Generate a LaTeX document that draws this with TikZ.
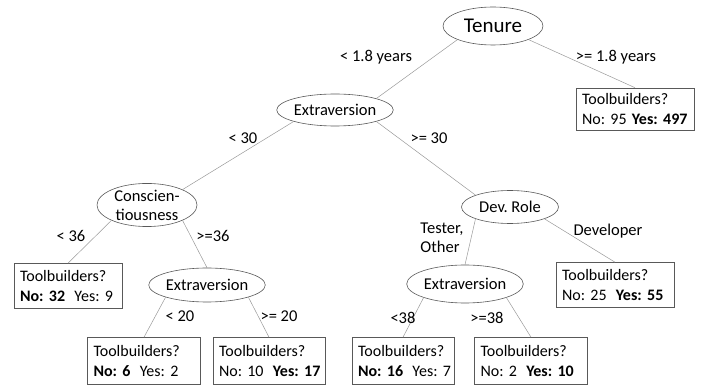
\documentclass[tikz,border=0pt]{standalone}
\usepackage{fontspec}
\setmainfont{Carlito}
\usepackage{tikz}
\usetikzlibrary{shapes.geometric,positioning}
\frenchspacing
\tikzset{
  txt/.style={font=\fontsize{16.5}{20}\selectfont, inner sep=0pt},
  split/.style={txt, ellipse, draw=black!65, line width=0.6pt, minimum width=100pt, minimum height=34pt},
  leaf/.style={txt, font=\fontsize{16}{20}\selectfont, draw=black!65, line width=0.6pt, align=left, inner xsep=6pt, inner ysep=3pt, text width=#1, minimum height=45pt},
  edge/.style={draw=black!40, line width=0.5pt},
  lbl/.style={txt}
}
\begin{document}
\begin{tikzpicture}[x=1pt,y=-1pt]
\useasboundingbox (0,0) rectangle (702,390);
\node[split, minimum height=38pt, font=\fontsize{21}{24}\selectfont] (ten) at (493,26) {Tenure};
\node[split, minimum height=32pt] (ext1) at (335,110) {Extraversion};
\node[split, minimum height=40pt, align=center, font=\fontsize{16.5}{19}\selectfont] (con) at (147,205) {Conscien-\\tiousness};
\node[split] (ext2) at (207,285) {Extraversion};
\node[split, minimum width=97pt, minimum height=33pt] (dev) at (510,207) {Dev. Role};
\node[split, minimum height=38pt] (ext3) at (465,284) {Extraversion};
\node[leaf=106pt, minimum height=42pt] (b497) at (635,109) {Toolbuilders?\\\mbox{No: 95 \textbf{Yes: 497}}};
\node[leaf=96pt] (b32) at (68,286) {Toolbuilders?\\\mbox{\textbf{No: 32}\hspace{4pt} Yes: 9}};
\node[leaf=101pt, minimum height=47pt] (b6) at (144,361) {Toolbuilders?\\\mbox{\textbf{No: 6}\hspace{4pt} Yes: 2}};
\node[leaf=100pt, minimum height=47pt] (b17) at (269,361) {Toolbuilders?\\\mbox{No: 10\hspace{4pt} \textbf{Yes: 17}}};
\node[leaf=106pt] (b55) at (615,285) {Toolbuilders?\\\mbox{No: 25\hspace{4pt} \textbf{Yes: 55}}};
\node[leaf=90pt, minimum height=47pt] (b16) at (403,361) {Toolbuilders?\\\mbox{\textbf{No: 16}\hspace{4pt} Yes: 7}};
\node[leaf=101pt, minimum height=47pt] (b10) at (531,361) {Toolbuilders?\\\mbox{No: 2\hspace{4pt} \textbf{Yes: 10}}};
\draw[edge] (ten.south west) -- (ext1.north east);
\draw[edge] (ten.south east) -- (b497.north);
\draw[edge] (ext1.south west) -- (con.north east);
\draw[edge] (ext1.south east) -- (dev.north west);
\draw[edge] (con.south west) -- (b32.north);
\draw[edge] (con.south east) -- (ext2.north);
\draw[edge] (ext2.south west) -- (b6.north);
\draw[edge] (ext2.south east) -- (b17.north);
\draw[edge] (dev.south west) -- (ext3.north);
\draw[edge] (dev.south east) -- (b55.north);
\draw[edge] (ext3.south west) -- (b16.north);
\draw[edge] (ext3.south east) -- (b10.north);
\node[lbl] (l1) at (376,57) {< 1.8 years};
\node[lbl] (l2) at (616,57) {>= 1.8 years};
\node[lbl] (l3) at (243,138) {< 30};
\node[lbl] (l4) at (429,138) {>= 30};
\node[lbl] (l5) at (71,236) {< 36};
\node[lbl] (l6) at (213,236) {>=36};
\node[lbl] (l7) at (180,316) {< 20};
\node[lbl] (l8) at (279,316) {>= 20};
\node[lbl, align=left, font=\fontsize{16.5}{19}\selectfont] (l9) at (442,238) {Tester,\\Other};
\node[lbl] (l10) at (608,231) {Developer};
\node[lbl] (l11) at (403,318) {<38};
\node[lbl] (l12) at (487,318) {>=38};
\end{tikzpicture}
\end{document}
